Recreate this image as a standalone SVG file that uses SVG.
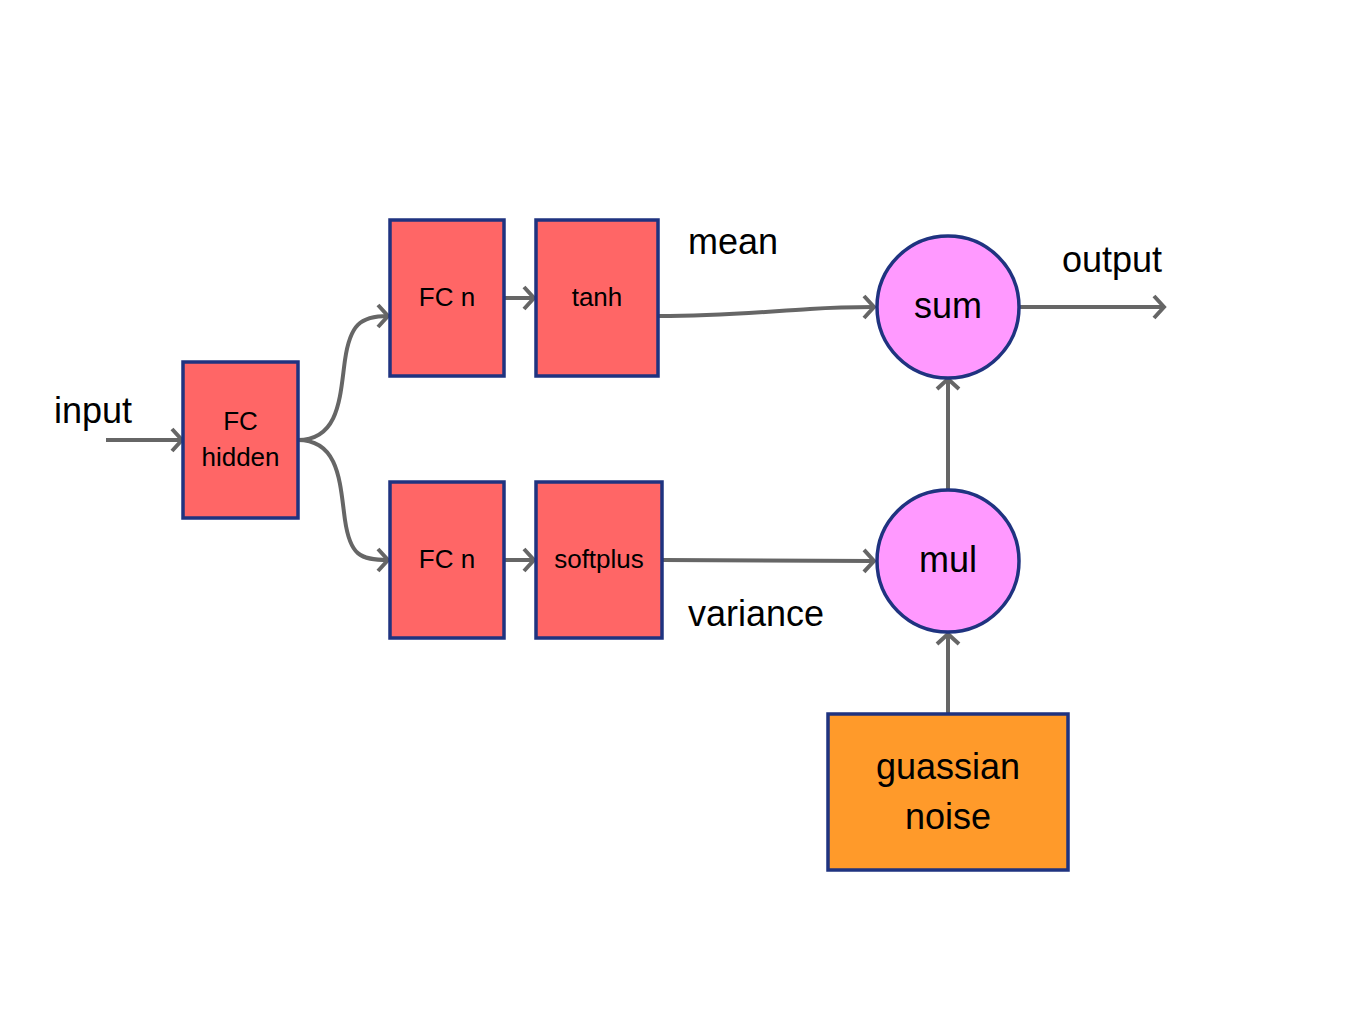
<svg xmlns="http://www.w3.org/2000/svg" width="1348" height="1022" viewBox="0 0 1348 1022">
<style>
.box{fill:#ff6666;stroke:#1f3380;stroke-width:3.5}
.circ{fill:#ff99ff;stroke:#1f3380;stroke-width:3.5}
.noise{fill:#ff9a2a;stroke:#1f3380;stroke-width:3.5}
.edge{fill:none;stroke:#666666;stroke-width:4;marker-end:url(#arr)}
text{font-family:"Liberation Sans",Arial,sans-serif;fill:#000}
.s{font-size:26px;text-anchor:middle;dominant-baseline:central}
.l{font-size:36px;text-anchor:middle;dominant-baseline:central}
.lab{font-size:36px}
</style>
<defs>
<marker id="arr" markerUnits="userSpaceOnUse" markerWidth="28" markerHeight="28" viewBox="-14 -14 28 28" refX="0" refY="0" orient="auto">
<path d="M-10,-11 L0,0 L-10,11" fill="none" stroke="#666666" stroke-width="4"/>
</marker>
</defs>
<rect width="1348" height="1022" fill="#ffffff"/>
<g id="connectors">
<path class="edge" d="M106,440 L182,440"/>
<path class="edge" d="M298,440 C340,440 340,395 345,360 C350,325 360,316 388,316"/>
<path class="edge" d="M298,440 C340,440 340,485 345,520 C350,555 360,560 388,560"/>
<path class="edge" d="M504,298 L534,298"/>
<path class="edge" d="M504,560 L534,560"/>
<path class="edge" d="M659,316 C720,316 760,312 810,309 C840,307 860,307 874,307"/>
<path class="edge" d="M663,560 L874,561"/>
<path class="edge" d="M1020,307 L1164,307"/>
<path class="edge" d="M948,490 L948,379"/>
<path class="edge" d="M948,714 L948,634"/>
</g>
<g id="fc_hidden"><rect class="box" x="183" y="362" width="115" height="156"/><text class="s" x="240.5" y="421">FC</text><text class="s" x="240.5" y="457">hidden</text></g>
<g id="fc_n_top"><rect class="box" x="390" y="220" width="114" height="156"/><text class="s" x="447" y="297">FC n</text></g>
<g id="tanh"><rect class="box" x="536" y="220" width="122" height="156"/><text class="s" x="597" y="297">tanh</text></g>
<g id="fc_n_bottom"><rect class="box" x="390" y="482" width="114" height="156"/><text class="s" x="447" y="559">FC n</text></g>
<g id="softplus"><rect class="box" x="536" y="482" width="126" height="156"/><text class="s" x="599" y="559">softplus</text></g>
<g id="sum"><circle class="circ" cx="948" cy="307" r="71"/><text class="l" x="948" y="305">sum</text></g>
<g id="mul"><circle class="circ" cx="948" cy="561" r="71"/><text class="l" x="948" y="559">mul</text></g>
<g id="noise"><rect class="noise" x="828" y="714" width="240" height="156"/><text class="l" x="948" y="766">guassian</text><text class="l" x="948" y="816">noise</text></g>
<g id="labels">
<text class="lab" x="54" y="423">input</text>
<text class="lab" x="688" y="254">mean</text>
<text class="lab" x="688" y="626">variance</text>
<text class="lab" x="1062" y="272">output</text>
</g>
</svg>
